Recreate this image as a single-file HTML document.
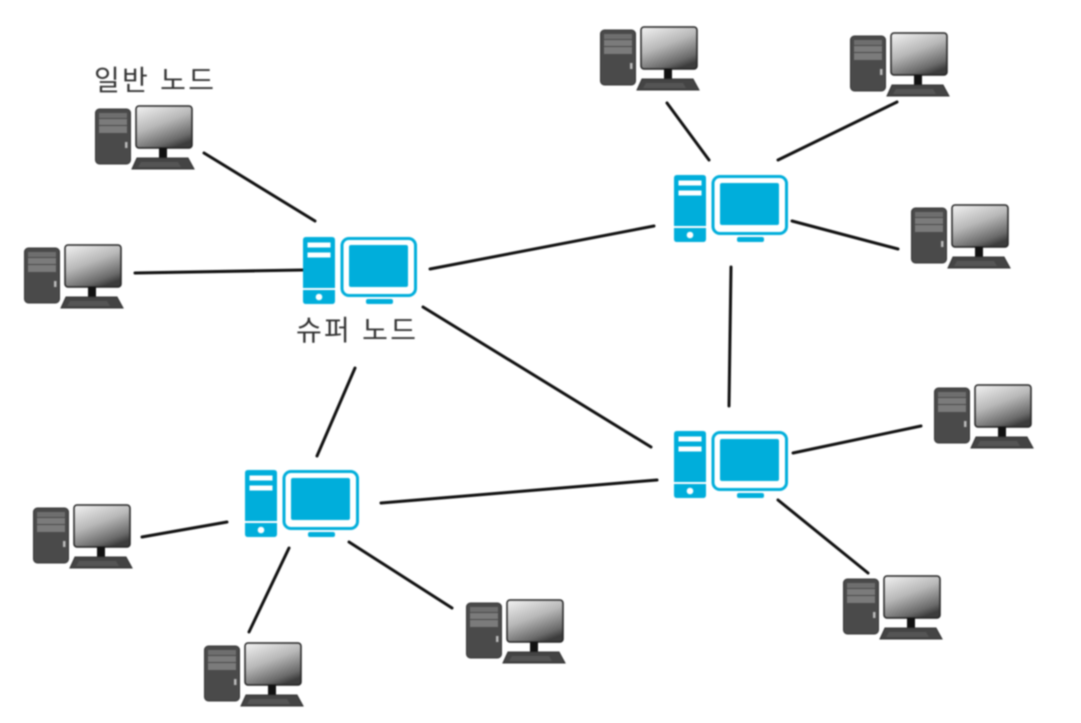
<!DOCTYPE html>
<html lang="ko">
<head>
<meta charset="utf-8">
<title>슈퍼 노드</title>
<style>
html,body{margin:0;padding:0;background:#fff;width:1081px;height:723px;overflow:hidden}
svg{display:block;filter:blur(.7px)}
text{font-family:"Liberation Sans","Noto Sans CJK KR",sans-serif;font-size:28px;fill:#333}
</style>
</head>
<body>
<svg width="1081" height="723" viewBox="0 0 1081 723" xmlns="http://www.w3.org/2000/svg">
<defs>
<linearGradient id="scr" x1="0.15" y1="0" x2="0.65" y2="1">
<stop offset="0" stop-color="#ececec"/><stop offset=".45" stop-color="#b8b8b8"/><stop offset=".85" stop-color="#6a6a6a"/><stop offset="1" stop-color="#3c3c3c"/>
</linearGradient>
<g id="pc">
<rect x="0.5" y="4" width="35" height="55" rx="4" fill="#4a4a4a" stroke="#333" stroke-width="1"/>
<rect x="4" y="8" width="28" height="5" fill="#6e6e6e"/>
<rect x="4" y="14" width="28" height="6" fill="#7b7b7b"/>
<rect x="4" y="21" width="28" height="7" fill="#7b7b7b"/>
<rect x="30" y="37" width="2.500" height="6" fill="#bbb"/>
<rect x="41" y="1" width="56" height="42" rx="3" fill="url(#scr)" stroke="#222" stroke-width="1.500"/>
<rect x="64" y="43" width="8" height="10" fill="#111"/>
<path d="M42 53H93L99 64H37Z" fill="#444" stroke="#333" stroke-width="1"/>
<path d="M46 57H83L86 62H43Z" fill="#555"/>
</g>
<g id="sn">
<path d="M3 0H29Q32 0 32 3V51H0V3Q0 0 3 0Z" fill="#00aedb"/>
<path d="M0 53H32V64Q32 67 29 67H3Q0 67 0 64Z" fill="#00aedb"/>
<rect x="4.500" y="5.500" width="23" height="5" fill="#fff"/>
<rect x="4.500" y="15.500" width="23" height="5" fill="#fff"/>
<circle cx="16" cy="60" r="3.300" fill="#fff"/>
<rect x="39" y="1.500" width="73.500" height="57" rx="7" fill="#fff" stroke="#00aedb" stroke-width="3"/>
<rect x="46" y="8" width="59" height="42" rx="2" fill="#00aedb"/>
<rect x="63" y="62" width="27" height="5" rx="2" fill="#00aedb"/>
</g>
</defs>
<g stroke="#111" stroke-width="3" stroke-linecap="round" fill="none">
<path d="M204 153L315 221"/>
<path d="M135 273L303 270"/>
<path d="M430 269L654 226"/>
<path d="M423 307L651 447"/>
<path d="M355 368L317 456"/>
<path d="M381 503L657 480"/>
<path d="M731 267L729 406"/>
<path d="M667 103L709 160"/>
<path d="M778 160L897 102"/>
<path d="M792 221L898 249"/>
<path d="M793 453L921 426"/>
<path d="M778 500L868 573"/>
<path d="M142 537L227 522"/>
<path d="M289 548L249 632"/>
<path d="M349 542L452 608"/>
</g>
<use href="#pc" x="95" y="105"/>
<use href="#pc" x="24" y="244"/>
<use href="#pc" x="600" y="26"/>
<use href="#pc" x="850" y="32"/>
<use href="#pc" x="911" y="204"/>
<use href="#pc" x="934" y="384"/>
<use href="#pc" x="843" y="575"/>
<use href="#pc" x="466" y="599"/>
<use href="#pc" x="204" y="642"/>
<use href="#pc" x="33" y="504"/>
<use href="#sn" x="303" y="237"/>
<use href="#sn" x="674" y="175"/>
<use href="#sn" x="674" y="431"/>
<use href="#sn" x="245" y="470"/>
<text x="94" y="90" textLength="120" lengthAdjust="spacing">일반 노드</text>
<text x="296" y="340" textLength="120" lengthAdjust="spacing">슈퍼 노드</text>
</svg>
</body>
</html>
